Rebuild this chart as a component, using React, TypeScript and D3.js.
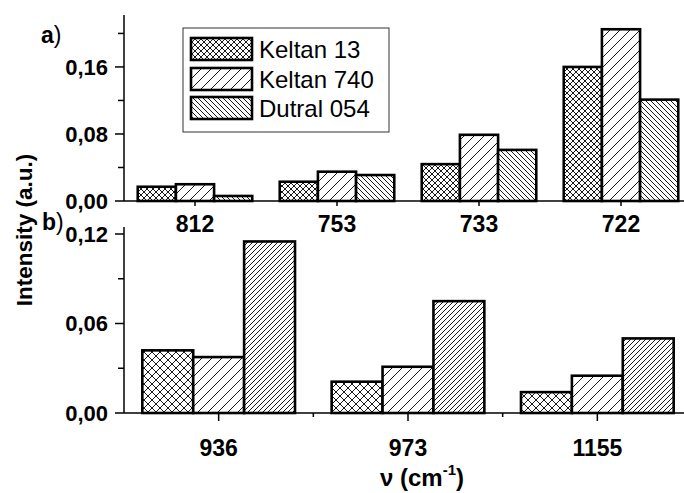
import * as d3 from 'd3';

const series = ['Keltan 13', 'Keltan 740', 'Dutral 054'];

// panel a)
const catsA = ['812', '753', '733', '722'];
const keltan13A = [0.017, 0.023, 0.044, 0.16];
const keltan740A = [0.02, 0.035, 0.079, 0.205];
const dutral054A = [0.006, 0.031, 0.061, 0.121];
const majorA = [0, 0.08, 0.16];
const minorA = [0.04, 0.12, 0.2];

// panel b)
const catsB = ['936', '973', '1155'];
const keltan13B = [0.042, 0.021, 0.014];
const keltan740B = [0.0375, 0.031, 0.025];
const dutral054B = [0.115, 0.075, 0.05];
const majorB = [0, 0.06, 0.12];
const minorB = [0.03, 0.09];

const font = '"Liberation Sans", Arial, sans-serif';
const fmt = (v: number) => d3.format('.2f')(v).replace('.', ',');

const X0 = 124;
const X1 = 692;

function Hatch({ id, size, kind }: { id: string; size: number; kind: string }) {
  const s = size;
  let d = '';
  if (kind === 'cross') d = `M0,0L${s},${s}M0,${s}L${s},0`;
  if (kind === 'fwd') d = `M0,${s}L${s},0M-1,1L1,-1M${s - 1},${s + 1}L${s + 1},${s - 1}`;
  if (kind === 'back') d = `M0,0L${s},${s}M-1,${s - 1}L1,${s + 1}M${s - 1},-1L${s + 1},1`;
  return (
    <pattern id={id} width={s} height={s} patternUnits="userSpaceOnUse">
      <rect width={s} height={s} fill="white" />
      <path d={d} stroke="black" strokeWidth={0.9} fill="none" />
    </pattern>
  );
}

function Panel(props: {
  cats: string[];
  values: number[][];
  yMax: number;
  top: number;
  base: number;
  major: number[];
  minor: number[];
  fills: string[];
  labelY: number;
  xTick: number;
  boundaryTicks: boolean;
}) {
  const { cats, values, yMax, top, base, major, minor, fills, labelY, xTick, boundaryTicks } = props;
  const y = d3.scaleLinear().domain([0, yMax]).range([base, top]);
  const x0 = d3.scaleBand().domain(cats).range([X0, X1]);
  const x1 = d3.scaleBand().domain(series).range([0, x0.bandwidth()]).paddingOuter(0.36);

  return (
    <g>
      {cats.map((c, i) =>
        series.map((s, j) => {
          const v = values[j][i];
          return (
            <rect
              key={c + s}
              x={x0(c)! + x1(s)!}
              y={y(v)}
              width={x1.bandwidth()}
              height={y(0) - y(v)}
              fill={`url(#${fills[j]})`}
              stroke="black"
              strokeWidth={2.6}
            />
          );
        })
      )}
      <line x1={X0} x2={684} y1={base} y2={base} stroke="black" strokeWidth={1.5} />
      <line x1={X0} x2={X0} y1={top} y2={base} stroke="black" strokeWidth={1.5} />
      {major.map((t) => (
        <g key={'M' + t}>
          <line x1={X0 - 9} x2={X0} y1={y(t)} y2={y(t)} stroke="black" strokeWidth={1.5} />
          <text x={108} y={y(t)} dy="0.36em" textAnchor="end" fontSize={22} fontWeight="bold" fontFamily={font}>
            {fmt(t)}
          </text>
        </g>
      ))}
      {minor.map((t) => (
        <line key={'m' + t} x1={X0 - 6} x2={X0} y1={y(t)} y2={y(t)} stroke="black" strokeWidth={1.5} />
      ))}
      {cats.map((c) => {
        const cx = x0(c)! + x0.bandwidth() / 2;
        return (
          <g key={'x' + c}>
            <line x1={cx} x2={cx} y1={base} y2={base + xTick} stroke="black" strokeWidth={1.5} />
            <text x={cx} y={labelY} textAnchor="middle" fontSize={23} fontWeight="bold" fontFamily={font}>
              {c}
            </text>
          </g>
        );
      })}
      {boundaryTicks &&
        cats.slice(1).map((c) => (
          <line key={'b' + c} x1={x0(c)!} x2={x0(c)!} y1={base} y2={base + 4} stroke="black" strokeWidth={1.5} />
        ))}
    </g>
  );
}

export default function App() {
  const legendY = [38, 68, 97];
  return (
    <svg width={684} height={493} style={{ position: 'absolute', left: 0, top: 0, background: 'white' }}>
      <defs>
        <Hatch id="crossA" size={6} kind="cross" />
        <Hatch id="fwdA" size={10} kind="fwd" />
        <Hatch id="backA" size={5} kind="back" />
        <Hatch id="crossB" size={8} kind="cross" />
        <Hatch id="fwdB" size={10} kind="fwd" />
        <Hatch id="denseB" size={5} kind="fwd" />
      </defs>
      <rect width={684} height={493} fill="white" />

      <Panel
        cats={catsA}
        values={[keltan13A, keltan740A, dutral054A]}
        yMax={0.222}
        top={15}
        base={201}
        major={majorA}
        minor={minorA}
        fills={['crossA', 'fwdA', 'backA']}
        labelY={232}
        xTick={5}
        boundaryTicks={false}
      />
      <Panel
        cats={catsB}
        values={[keltan13B, keltan740B, dutral054B]}
        yMax={0.1247}
        top={227}
        base={413}
        major={majorB}
        minor={minorB}
        fills={['crossB', 'fwdB', 'denseB']}
        labelY={456}
        xTick={8}
        boundaryTicks={true}
      />

      {/* legend */}
      <rect x={183} y={28} width={206} height={104} fill="white" stroke="#333" strokeWidth={1} />
      {series.map((s, i) => (
        <g key={s}>
          <rect
            x={191}
            y={legendY[i]}
            width={61}
            height={22}
            fill={`url(#${['crossA', 'fwdA', 'backA'][i]})`}
            stroke="black"
            strokeWidth={2.6}
          />
          <text x={259} y={legendY[i] + 20} fontSize={24} fontFamily={font}>
            {s}
          </text>
        </g>
      ))}

      <text x={41} y={43} fontSize={23} fontFamily={font}>
        <tspan fontWeight="bold">a</tspan>)
      </text>
      <text x={42} y={230} fontSize={23} fontFamily={font}>
        <tspan fontWeight="bold">b</tspan>)
      </text>

      <text
        transform="translate(32,230) rotate(-90)"
        textAnchor="middle"
        fontSize={22.5}
        fontWeight="bold"
        fontFamily={font}
      >
        Intensity (a.u.)
      </text>
      <text x={422} y={486} textAnchor="middle" fontSize={24} fontWeight="bold" fontFamily={font}>
        ν (cm
        <tspan dy={-11} fontSize={15}>
          -1
        </tspan>
        <tspan dy={11}>)</tspan>
      </text>
    </svg>
  );
}
